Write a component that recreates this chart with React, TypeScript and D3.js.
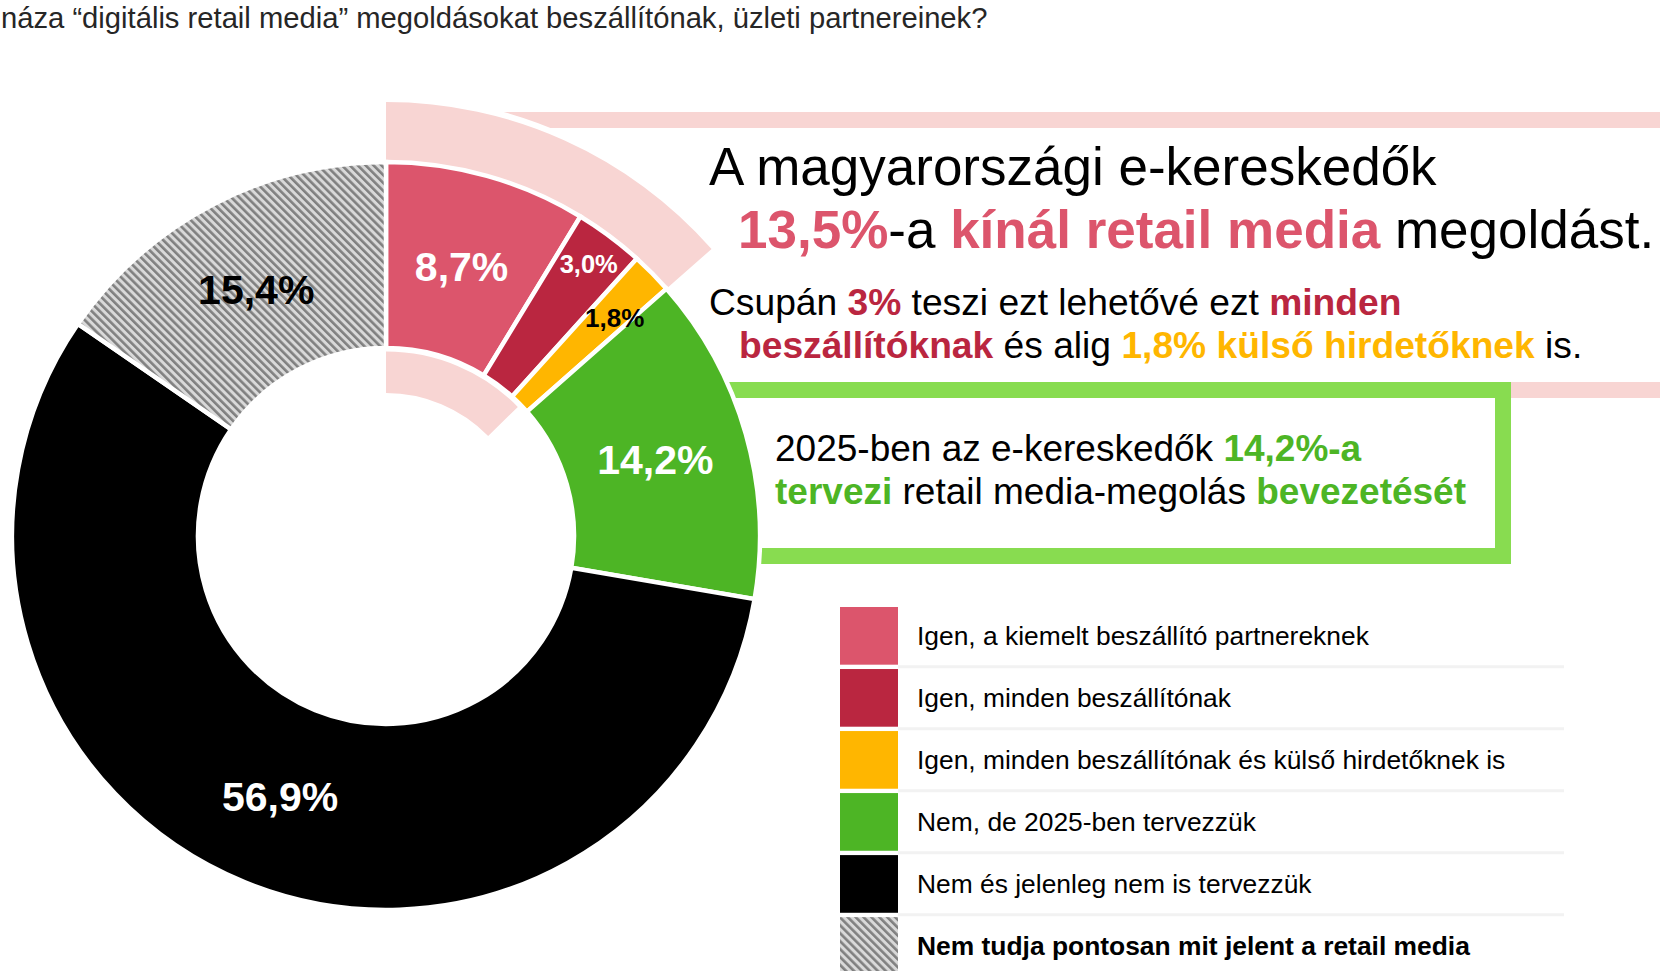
import React from "react";
import * as d3 from "d3";

// ---- data ----
const categories = [
  "Igen, a kiemelt beszállító partnereknek",
  "Igen, minden beszállítónak",
  "Igen, minden beszállítónak és külső hirdetőknek is",
  "Nem, de 2025-ben tervezzük",
  "Nem és jelenleg nem is tervezzük",
  "Nem tudja pontosan mit jelent a retail media",
];
const values = [8.7, 3.0, 1.8, 14.2, 56.9, 15.4];
const valueLabels = ["8,7%", "3,0%", "1,8%", "14,2%", "56,9%", "15,4%"];
const highlightedCount = 3; // first three slices = 13,5%

// ---- styles ----
const colors = ["#DC556C", "#BA2640", "#FFB600", "#4DB525", "#000000", "url(#hatch)"];
const labelColors = ["#fff", "#fff", "#000", "#fff", "#fff", "#000"];
const labelSizes = [41, 25.5, 26, 41, 41, 41];
const labelRadii = [280, 339, 316, 280, 281, 279];
const labelAngleOffsetDeg = [0, 0, 1, 0, 0, 0];
const legendBold = [false, false, false, false, false, true];

const FONT = "'Liberation Sans', Arial, sans-serif";
const PINK = "#DC556C";
const DARKRED = "#BA2640";
const YELLOW = "#FFB600";
const GREEN = "#4DB525";
const LIGHTPINK = "#F8D5D3";
const BOXGREEN = "#88DC50";

export default function App() {
  const W = 1660;
  const H = 971;
  const cx = 386;
  const cy = 536;
  const rOuter = 374;
  const rInner = 188;

  const pie = d3
    .pie<number>()
    .sort(null)
    .value((d) => d)
    .startAngle(0)
    .endAngle(2 * Math.PI);
  const arcs = pie(values);
  const arcGen = d3.arc<d3.PieArcDatum<number>>().innerRadius(rInner).outerRadius(rOuter);

  const angle = d3.scaleLinear().domain([0, d3.sum(values)]).range([0, 2 * Math.PI]);
  const highlightEnd = angle(d3.sum(values.slice(0, highlightedCount)));
  const outerHighlight = d3.arc()({
    innerRadius: 370,
    outerRadius: 434,
    startAngle: 0,
    endAngle: highlightEnd,
  } as any) as string;
  const innerHighlight = d3.arc()({
    innerRadius: 143,
    outerRadius: 184.5,
    startAngle: 0,
    endAngle: highlightEnd - (3 * Math.PI) / 180,
  } as any) as string;

  const legendY = d3
    .scaleBand<string>()
    .domain(categories)
    .range([607, 607 + 61.3 * categories.length])
    .paddingInner(0.07)
    .paddingOuter(0);

  return (
    <svg
      width={W}
      height={H}
      viewBox={`0 0 ${W} ${H}`}
      style={{ position: "absolute", left: 0, top: 0, background: "#fff" }}
      fontFamily={FONT}
    >
      <defs>
        <pattern
          id="hatch"
          patternUnits="userSpaceOnUse"
          width={5.6}
          height={5.6}
          patternTransform="rotate(-45)"
        >
          <rect width={5.6} height={5.6} fill="#D9D9D9" />
          <rect width={2.6} height={5.6} fill="#808080" />
        </pattern>
      </defs>
      <rect width={W} height={H} fill="#fff" />

      {/* question title (cut at the left in the original) */}
      <text x={1} y={28} fontSize={29.2} fill="#262626">
        náza “digitális retail media” megoldásokat beszállítónak, üzleti partnereinek?
      </text>

      {/* pink call-out frame */}
      <rect x={488} y={120} width={1300} height={270} fill="none" stroke={LIGHTPINK} strokeWidth={16} />
      {/* green call-out frame */}
      <rect x={708} y={390} width={795} height={166} fill="none" stroke={BOXGREEN} strokeWidth={16} />

      <g transform={`translate(${cx},${cy})`}>
        {/* highlight arcs */}
        <path d={outerHighlight} fill={LIGHTPINK} stroke="#fff" strokeWidth={12} paintOrder="stroke" strokeLinejoin="miter" />
        <path d={innerHighlight} fill={LIGHTPINK} stroke="#fff" strokeWidth={4} paintOrder="stroke" />

        {/* donut */}
        {arcs.map((a, i) => (
          <path key={i} d={arcGen(a) as string} fill={colors[i]} stroke="#fff" strokeWidth={4.5} strokeLinejoin="miter" />
        ))}

        {/* slice labels */}
        {arcs.map((a, i) => {
          const mid = (a.startAngle + a.endAngle) / 2 + (labelAngleOffsetDeg[i] * Math.PI) / 180;
          const r = labelRadii[i];
          const x = r * Math.sin(mid);
          const y = -r * Math.cos(mid);
          return (
            <text
              key={"l" + i}
              x={x}
              y={y}
              dy="0.358em"
              textAnchor="middle"
              fontWeight="bold"
              fontSize={labelSizes[i]}
              fill={labelColors[i]}
            >
              {valueLabels[i]}
            </text>
          );
        })}
      </g>

      {/* headline */}
      <text x={709} y={185} fontSize={53} fill="#000">
        A magyarországi e-kereskedők
      </text>
      <text x={738} y={248} fontSize={53} fill="#000">
        <tspan fill={PINK} fontWeight="bold">13,5%</tspan>
        <tspan>-a </tspan>
        <tspan fill={PINK} fontWeight="bold">kínál retail media</tspan>
        <tspan> megoldást.</tspan>
      </text>

      <text x={709} y={315} fontSize={37.2} fill="#000">
        <tspan>Csupán </tspan>
        <tspan fill={DARKRED} fontWeight="bold">3%</tspan>
        <tspan> teszi ezt lehetővé ezt </tspan>
        <tspan fill={DARKRED} fontWeight="bold">minden</tspan>
      </text>
      <text x={739} y={358} fontSize={37.2} fill="#000">
        <tspan fill={DARKRED} fontWeight="bold">beszállítóknak</tspan>
        <tspan> és alig </tspan>
        <tspan fill={YELLOW} fontWeight="bold">1,8% külső hirdetőknek</tspan>
        <tspan> is.</tspan>
      </text>

      <text x={775} y={461} fontSize={37} fill="#000">
        <tspan>2025-ben az e-kereskedők </tspan>
        <tspan fill={GREEN} fontWeight="bold">14,2%-a</tspan>
      </text>
      <text x={775} y={504} fontSize={37} fill="#000">
        <tspan fill={GREEN} fontWeight="bold">tervezi</tspan>
        <tspan> retail media-megolás </tspan>
        <tspan fill={GREEN} fontWeight="bold">bevezetését</tspan>
      </text>

      {/* legend */}
      {categories.map((c, i) => {
        const y0 = legendY(c) as number;
        const h = legendY.bandwidth();
        return (
          <g key={"lg" + i}>
            <rect x={840} y={y0} width={58} height={h} fill={colors[i]} />
            {i < categories.length - 1 && (
              <line x1={898} x2={1564} y1={y0 + h + 2} y2={y0 + h + 2} stroke="#F2F2F2" strokeWidth={3} />
            )}
            <text
              x={917}
              y={y0 + h / 2}
              dy="0.36em"
              fontSize={26.4}
              fontWeight={legendBold[i] ? "bold" : "normal"}
              fill="#000"
            >
              {c}
            </text>
          </g>
        );
      })}
    </svg>
  );
}
